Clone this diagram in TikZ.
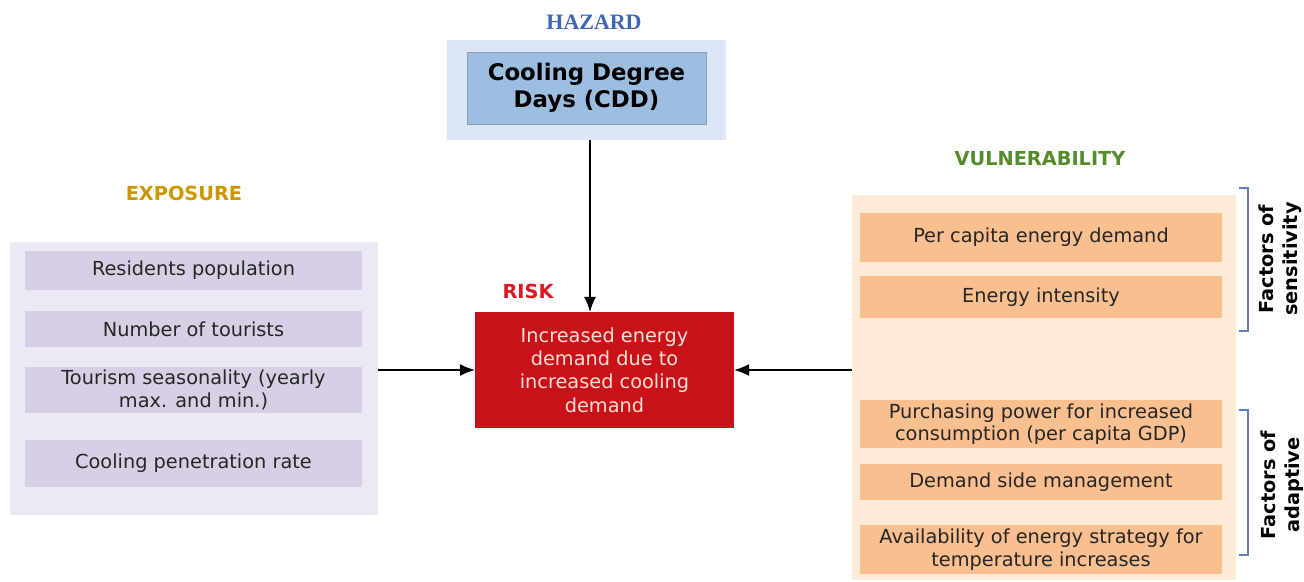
\documentclass[tikz,border=0pt]{standalone}
\usepackage{fontspec}
\setmainfont{DejaVu Sans}
\newfontfamily\headserif{Liberation Serif}
\usetikzlibrary{arrows.meta,positioning,calc}
\definecolor{hazBlue}{RGB}{62,102,182}
\definecolor{hazOuter}{RGB}{220,231,245}
\definecolor{hazInner}{RGB}{156,190,224}
\definecolor{riskRed}{RGB}{200,18,24}
\definecolor{riskHead}{RGB}{222,22,32}
\definecolor{riskText}{RGB}{252,222,212}
\definecolor{expGold}{RGB}{204,150,0}
\definecolor{expOuter}{RGB}{237,233,244}
\definecolor{expItem}{RGB}{215,207,227}
\definecolor{vulGreen}{RGB}{84,140,44}
\definecolor{vulOuter}{RGB}{253,235,216}
\definecolor{vulItem}{RGB}{249,191,142}
\definecolor{brackBlue}{RGB}{96,126,184}
\definecolor{itemText}{RGB}{38,38,38}
\tikzset{
	panel/.style={
		inner sep=0pt,
		outer sep=0pt
	},
	item/.style={
		align=center,
		inner sep=2pt,
		text=itemText,
		font=\fontsize{11}{12.8}\selectfont
	},
	head/.style={
		font=\fontsize{11}{13}\selectfont\bfseries
	},
	side/.style={
		rotate=90,
		align=center,
		font=\fontsize{11}{13.5}\selectfont\bfseries
	},
	bracket/.style={brackBlue, line width=0.7pt},
	arr/.style={-{Latex[length=3mm,width=2.4mm]}, line width=1pt}
}

\begin{document}
\begin{tikzpicture}[x=0.2cm, y=0.2cm]
		\useasboundingbox (0,0) rectangle (130.4,58.1);
		% hazard
		\node[font=\headserif\fontsize{12.5}{14}\selectfont\bfseries, text=hazBlue] (hazlabel) at (59.4,55.9) {HAZARD};
		\node[panel, fill=hazOuter, minimum width=5.58cm, minimum height=2cm] (hazout) at (58.65,49.1) {};
		\node[panel, fill=hazInner, draw=hazInner!85!black, line width=0.3pt, minimum width=4.78cm, minimum height=1.44cm, align=center, font=\fontsize{13}{15.3}\selectfont\bfseries] (hazin) at (58.65,49.3) {Cooling Degree\\Days (CDD)};
		% risk
		\node[head, text=riskHead] (risklabel) at (52.8,29.0) {RISK};
		\node[panel, fill=riskRed, minimum width=5.18cm, minimum height=2.32cm, align=center, text=riskText, font=\fontsize{11}{13.3}\selectfont] (risk) at (60.45,21.1) {Increased energy\\demand due to\\increased cooling\\demand};
		% exposure
		\node[head, text=expGold] (explabel) at (18.4,38.8) {EXPOSURE};
		\node[panel, fill=expOuter, minimum width=7.36cm, minimum height=5.46cm] (expo) at (19.4,20.25) {};
		\node[item, fill=expItem, minimum width=6.74cm, minimum height=0.78cm] (expo1) at (19.35,31.05) {Residents population};
		\node[item, fill=expItem, minimum width=6.74cm, minimum height=0.72cm] (expo2) at (19.35,25.2) {Number of tourists};
		\node[item, fill=expItem, minimum width=6.74cm, minimum height=0.8cm] (expo3) at (19.35,19.1) {Tourism seasonality (yearly\\max. and min.)};
		\node[item, fill=expItem, minimum width=6.74cm, minimum height=0.94cm] (expo4) at (19.35,11.75) {Cooling penetration rate};
		% vulnerability
		\node[head, text=vulGreen] (vullabel) at (104.0,42.2) {VULNERABILITY};
		\node[panel, fill=vulOuter, minimum width=7.68cm, minimum height=7.7cm] (vuln) at (104.4,19.35) {};
		\node[item, fill=vulItem, minimum width=7.24cm, minimum height=0.98cm] (vuln1) at (104.1,34.35) {Per capita energy demand};
		\node[item, fill=vulItem, minimum width=7.24cm, minimum height=0.84cm] (vuln2) at (104.1,28.4) {Energy intensity};
		\node[item, fill=vulItem, minimum width=7.24cm, minimum height=0.84cm] (vuln3) at (104.1,15.7) {Purchasing power for increased\\consumption (per capita GDP)};
		\node[item, fill=vulItem, minimum width=7.24cm, minimum height=0.72cm] (vuln4) at (104.1,9.9) {Demand side management};
		\node[item, fill=vulItem, minimum width=7.24cm, minimum height=0.9cm] (vuln5) at (104.1,3.15) {Availability of energy strategy for\\temperature increases};
		% factor brackets
		\draw[bracket] (123.9,39.3) -- (124.8,39.3) -- (124.8,25.0) -- (123.9,25.0);
		\draw[bracket] (123.9,17.1) -- (124.8,17.1) -- (124.8,2.6) -- (123.9,2.6);
		\node[side] (sens) at (128.0,32.2) {Factors of\\sensitivity};
		\node[side] (adap) at (128.2,9.6) {Factors of\\adaptive};
		% arrows into risk
		\coordinate (hazfoot) at ($(hazout.south)+(0.35,0)$);
		\draw[arr] (hazfoot) -- (hazfoot |- risk.north);
		\draw[arr] (expo.east |- risk.west) -- (risk.west);
		\draw[arr] (vuln.west |- risk.east) -- (risk.east);
	\end{tikzpicture}
\end{document}
